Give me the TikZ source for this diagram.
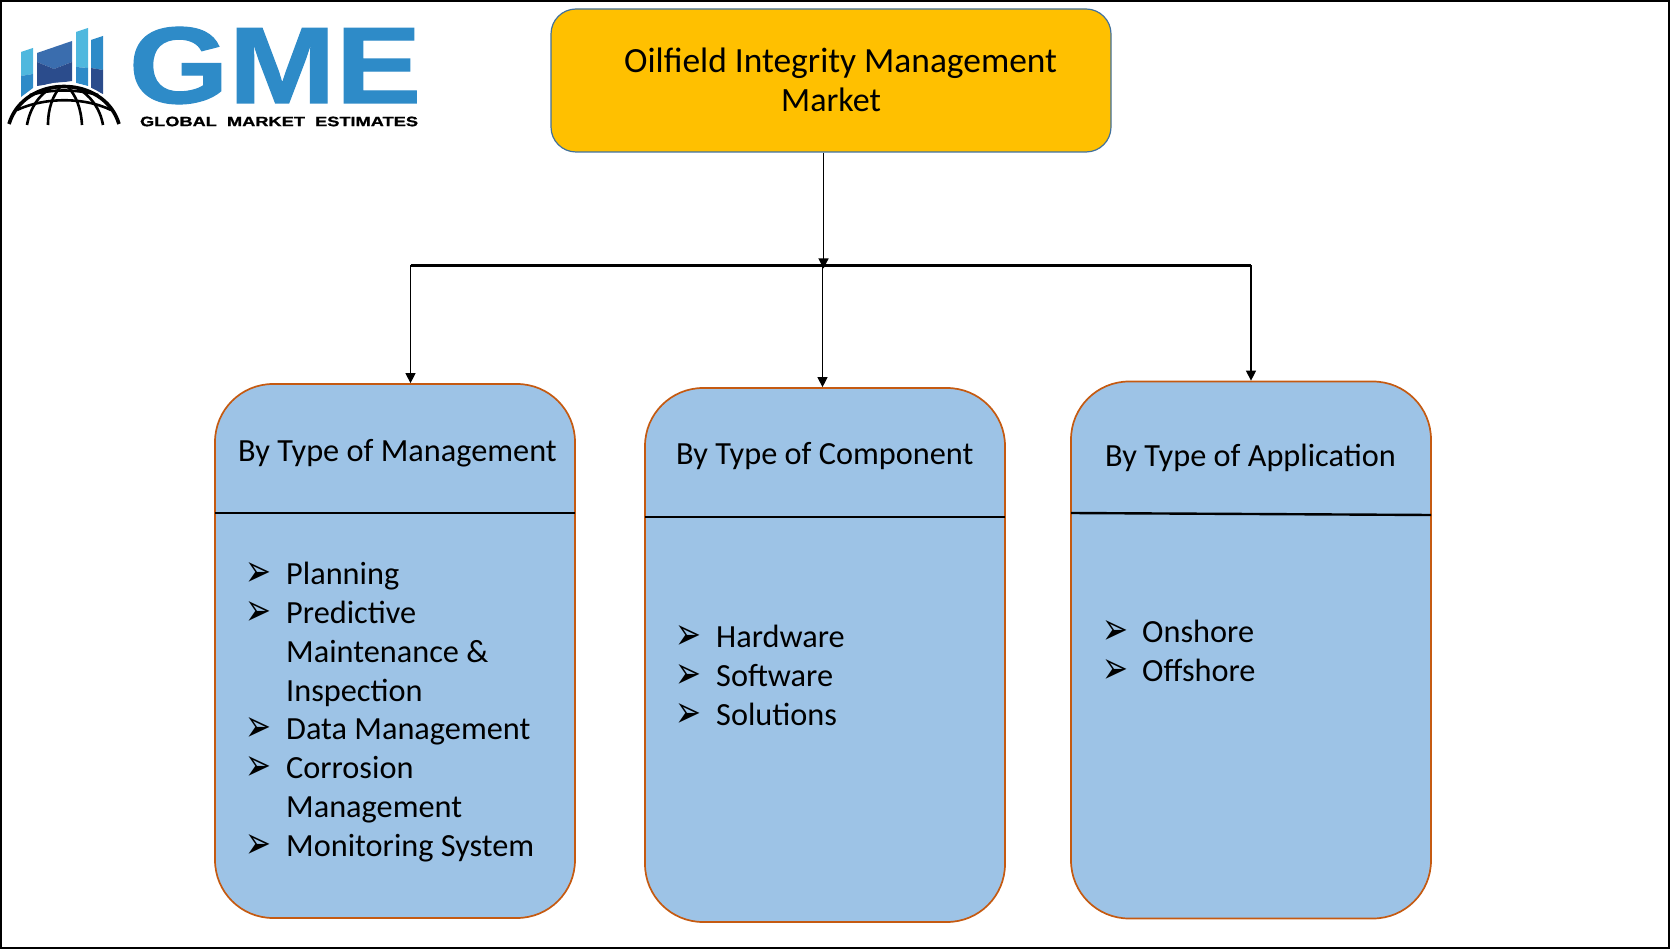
\documentclass[tikz,border=0pt]{standalone}
\usepackage{fontspec}
\setmainfont{Carlito}
\newfontfamily\bulletfont{DejaVu Sans}
\newfontfamily\logofont[FakeBold=1]{Liberation Sans}
\usetikzlibrary{arrows.meta}
\definecolor{rootfill}{HTML}{FFC000}
\definecolor{rootline}{HTML}{41719C}
\definecolor{cardfill}{HTML}{9DC3E6}
\definecolor{cardline}{HTML}{C55A11}
\definecolor{logoblue}{HTML}{2E8BC8}
\definecolor{logolight}{HTML}{4FB8DE}
\definecolor{logodark}{HTML}{2B4C8C}
\definecolor{logomid}{HTML}{3A6DAE}
\newcommand{\listmark}{\scalebox{1}[1.45]{\bulletfont\fontsize{31}{31}\selectfont ➢}}
\tikzset{
  rootbox/.style={draw=rootline, fill=rootfill, line width=1.2pt, rounded corners=25pt, minimum width=560pt, minimum height=143pt, inner sep=0pt},
  cardbox/.style={draw=cardline, fill=cardfill, line width=1.7pt, rounded corners=58pt, minimum width=360pt, minimum height=534pt, inner sep=0pt},
  roottext/.style={anchor=base west, inner sep=0pt, font=\fontsize{35.4}{42}\selectfont},
  cardtext/.style={anchor=base west, inner sep=0pt, font=\fontsize{32.3}{39}\selectfont},
  arrowmark/.style={anchor=center, inner sep=0pt},
  globeline/.style={line width=2.6pt},
  link/.style={line width=1.1pt, -{Triangle[length=10pt,width=10pt]}}
}
\begin{document}
\begin{tikzpicture}[x=1pt,y=-1pt]
\useasboundingbox (0,0) rectangle (1670,949);
\draw[line width=2pt] (1,1) rectangle (1669,948);
% logo
\fill[logolight] (21,52) -- (33,48) -- (33,74) -- (21,76) -- cycle;
\fill[logoblue] (21,76) -- (33,74) -- (33,88) -- (21,97) -- cycle;
\fill[logomid] (37,53) -- (72,41) -- (72,62) -- (54,69) -- (37,62) -- cycle;
\fill[logodark] (37,62) -- (54,69) -- (72,62) -- (72,81) -- (37,86) -- cycle;
\fill[logolight] (76,32) -- (88,28) -- (88,68) -- (76,67) -- cycle;
\fill[logoblue] (76,67) -- (88,68) -- (88,86) -- (76,83) -- cycle;
\fill[logoblue] (91,40) -- (103,36) -- (103,70) -- (91,68) -- cycle;
\fill[logodark] (91,68) -- (103,70) -- (103,94) -- (91,89) -- cycle;
\fill[white] (5,125) .. controls (20,68) and (108,68) .. (123,125) -- cycle;
\draw[line width=3.6pt] (9,124) .. controls (24,74) and (104,74) .. (119,124);
\draw[globeline] (17,110) .. controls (45,97) and (84,97) .. (111,110);
\draw[globeline] (30,95) .. controls (52,89) and (76,89) .. (98,95);
\draw[globeline] (48,125) .. controls (48,108) and (53,95) .. (61,86);
\draw[globeline] (82,125) .. controls (81,108) and (76,95) .. (67,86);
\draw[globeline] (27,125) .. controls (30,108) and (39,95) .. (51,88);
\draw[globeline] (103,125) .. controls (100,108) and (90,95) .. (77,88);
\node[inner sep=0pt, text=logoblue] (gme) at (275,65.5) {\resizebox{292pt}{76pt}{\logofont\bfseries GME}};
\node[inner sep=0pt] (gmename) at (279,121.5) {\resizebox{278pt}{9.5pt}{\logofont\bfseries GLOBAL\ \ MARKET\ \ ESTIMATES}};
% root
\node[rootbox] (root) at (831,80.5) {};
\node[roottext] (rootA) at (624,73) {Oilfield Integrity Management};
\node[roottext, font=\fontsize{34}{41}\selectfont] (rootB) at (781,112) {Market};
% cards
\node[cardbox] (cardA) at (395,651) {};
\node[cardbox] (cardB) at (825,655) {};
\node[cardbox, minimum height=537pt] (cardC) at (1251,650) {};
\draw[line width=2.4pt] (215,513) -- (575,513);
\draw[line width=2.4pt] (645,517) -- (1005,517);
\draw[line width=2.4pt] (1071,513) -- (1431,515);
% links
\coordinate (busL) at (410.5,265.5);
\coordinate (busM) at (822.5,265.5);
\coordinate (busT) at (823.5,265.5);
\coordinate (busR) at (1251,265.5);
\draw[line width=3pt] (busL) -- (busR);
\draw[link] (root.south -| busT) -- ([yshift=-3pt]busT);
\draw[link] (busM) -- (busM |- cardB.north);
\draw[link] (busL) -- (busL |- cardA.north);
\draw[link] (busR) -- (busR |- cardC.north);
% headers
\node[cardtext] (headA) at (238,461) {By Type of Management};
\node[cardtext] (headB) at (676,464) {By Type of Component};
\node[cardtext] (headC) at (1105,466) {By Type of Application};
% first list
\node[cardtext] (itemAa) at (286,584) {Planning};
\node[cardtext] (itemAb) at (286,623) {Predictive};
\node[cardtext] (itemAc) at (286,662) {Maintenance \&};
\node[cardtext] (itemAd) at (286,701) {Inspection};
\node[cardtext] (itemAe) at (286,739) {Data Management};
\node[cardtext] (itemAf) at (286,778) {Corrosion};
\node[cardtext] (itemAg) at (286,817) {Management};
\node[cardtext] (itemAh) at (286,856) {Monitoring System};
\foreach \y in {584,623,739,778,856}{
  \node[arrowmark] at (258,\y-9) {\listmark};
}
% second list
\node[cardtext] (itemBa) at (716,647) {Hardware};
\node[cardtext] (itemBb) at (716,686) {Software};
\node[cardtext] (itemBc) at (716,725) {Solutions};
\foreach \y in {647,686,725}{
  \node[arrowmark] at (688,\y-9) {\listmark};
}
% third list
\node[cardtext] (itemCa) at (1142,642) {Onshore};
\node[cardtext] (itemCb) at (1142,681) {Offshore};
\foreach \y in {642,681}{
  \node[arrowmark] at (1115,\y-9) {\listmark};
}
\end{tikzpicture}
\end{document}
